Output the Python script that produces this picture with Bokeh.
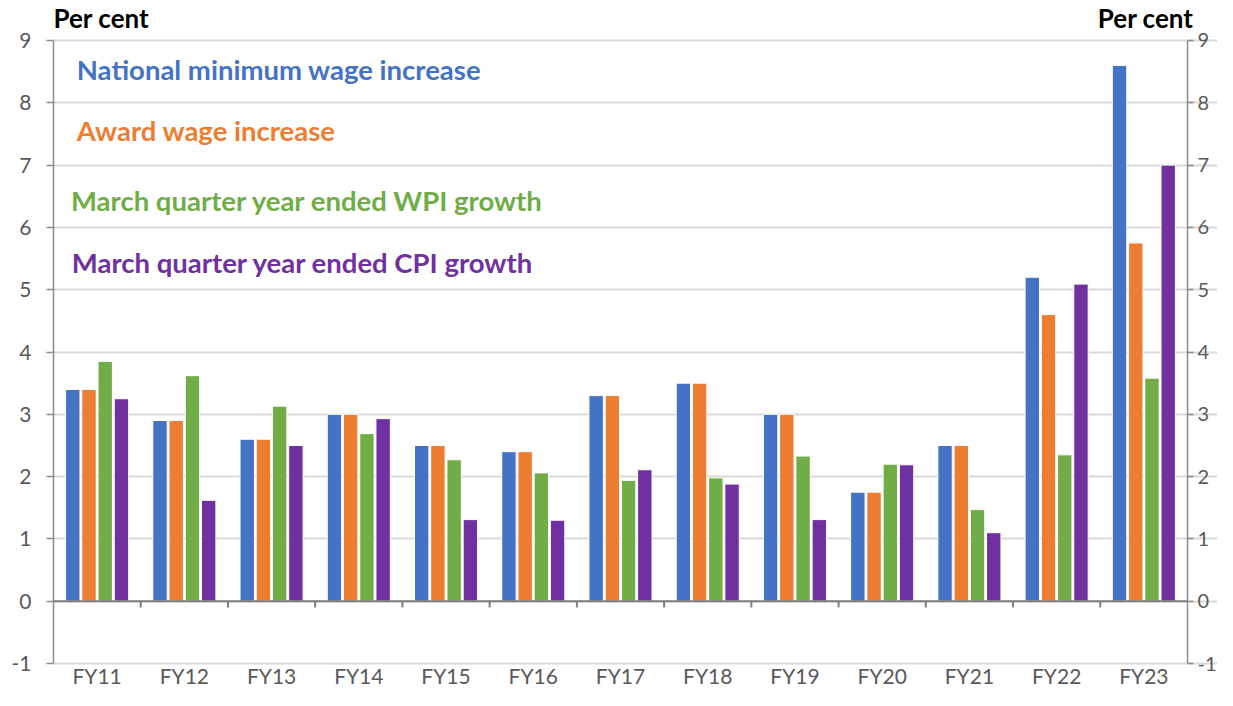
from bokeh.plotting import figure
from bokeh.models import Range1d, FixedTicker, LinearAxis, Label, ColumnDataSource
from bokeh.core.properties import value
from bokeh.embed import file_html
from bokeh.resources import INLINE

categories = ["FY11", "FY12", "FY13", "FY14", "FY15", "FY16", "FY17",
              "FY18", "FY19", "FY20", "FY21", "FY22", "FY23"]
nmw = [3.4, 2.9, 2.6, 3.0, 2.5, 2.4, 3.3, 3.5, 3.0, 1.75, 2.5, 5.2, 8.6]
award = [3.4, 2.9, 2.6, 3.0, 2.5, 2.4, 3.3, 3.5, 3.0, 1.75, 2.5, 4.6, 5.75]
wpi = [3.85, 3.62, 3.13, 2.69, 2.27, 2.06, 1.94, 1.98, 2.33, 2.2, 1.47, 2.35, 3.58]
cpi = [3.25, 1.62, 2.5, 2.93, 1.31, 1.3, 2.11, 1.88, 1.31, 2.19, 1.1, 5.09, 7.0]
series_names = ["National minimum wage increase", "Award wage increase",
                "March quarter year ended WPI growth", "March quarter year ended CPI growth"]
y_ticks = [-1, 0, 1, 2, 3, 4, 5, 6, 7, 8, 9]

colors = ["#4472C4", "#ED7D31", "#70AD47", "#7030A0"]
FONT = "Lato"
AXIS_GREY = "#8c8c8c"
LABEL_GREY = "#595959"

n = len(categories)
p = figure(width=1217, height=690, output_backend="svg", toolbar_location=None,
           x_range=Range1d(0, 13.344), y_range=Range1d(-1.433, 9.642),
           min_border_left=53, min_border_right=0, min_border_top=0, min_border_bottom=0)
p.title.visible = False
p.outline_line_color = None
p.background_fill_color = "white"
p.border_fill_color = "white"

# grid
p.xgrid.grid_line_color = None
p.ygrid.ticker = FixedTicker(ticks=y_ticks)
p.ygrid.bounds = (0, n)
p.ygrid.grid_line_color = "#d9d9d9"
p.ygrid.grid_line_width = 2

# bars
offsets = [-0.279, -0.093, 0.093, 0.279]
for vals, off, col in zip([nmw, award, wpi, cpi], offsets, colors):
    src = ColumnDataSource(dict(x=[i + 0.5 + off for i in range(n)], top=vals))
    p.vbar(x="x", top="top", bottom=0, width=0.165, source=src,
           fill_color=col, line_color="white", line_width=1)

# zero axis line with category boundary ticks
p.segment(x0=[0], y0=[0], x1=[n], y1=[0], line_color="#7f7f7f", line_width=2)
bounds = list(range(1, n))
p.segment(x0=bounds, y0=[0] * len(bounds), x1=bounds, y1=[-0.1] * len(bounds),
          line_color="#7f7f7f", line_width=2)

# category labels under the -1 line
p.xaxis.visible = False
p.text(x=[i + 0.5 for i in range(n)], y=[-1.39] * n, text=categories,
       text_font=value(FONT), text_font_size="21px", text_color=LABEL_GREY,
       text_align="center", text_baseline="bottom")

def style_y(ax, standoff, tick_out, size):
    ax.ticker = FixedTicker(ticks=y_ticks)
    ax.bounds = (-1, 9)
    ax.major_label_overrides = {t: str(t) for t in y_ticks}
    ax.axis_line_color = AXIS_GREY
    ax.axis_line_width = 1.5
    ax.major_tick_line_color = AXIS_GREY
    ax.major_tick_line_width = 1.5
    ax.major_tick_in = 0
    ax.major_tick_out = tick_out
    ax.minor_tick_line_color = None
    ax.major_label_standoff = standoff
    ax.major_label_text_font = FONT
    ax.major_label_text_font_size = size
    ax.major_label_text_color = LABEL_GREY

style_y(p.yaxis[0], 15, 7, "21px")
ra = LinearAxis(fixed_location=n)
style_y(ra, 4, 6, "20px")
p.add_layout(ra, "right")

# "Per cent" labels
p.add_layout(Label(x=0, y=9.36, text="Per cent", text_font=FONT, text_font_style="bold",
                   text_font_size="26px", text_color="black", text_baseline="middle",
                   text_align="left"))
p.add_layout(Label(x=n, y=9.36, text="Per cent", text_font=FONT, text_font_style="bold",
                   text_font_size="26px", text_color="black", text_baseline="middle",
                   text_align="right", x_offset=6))

# legend texts
legend_pos = [(0.267, 8.53), (0.267, 7.56), (0.2, 6.43), (0.21, 5.44)]
for name, col, (lx, ly) in zip(series_names, colors, legend_pos):
    p.add_layout(Label(x=lx, y=ly, text=name, text_font=FONT, text_font_style="bold",
                       text_font_size="27.5px", text_color=col, text_baseline="middle",
                       text_align="left"))

open("out.html", "w").write(file_html(p, INLINE))
